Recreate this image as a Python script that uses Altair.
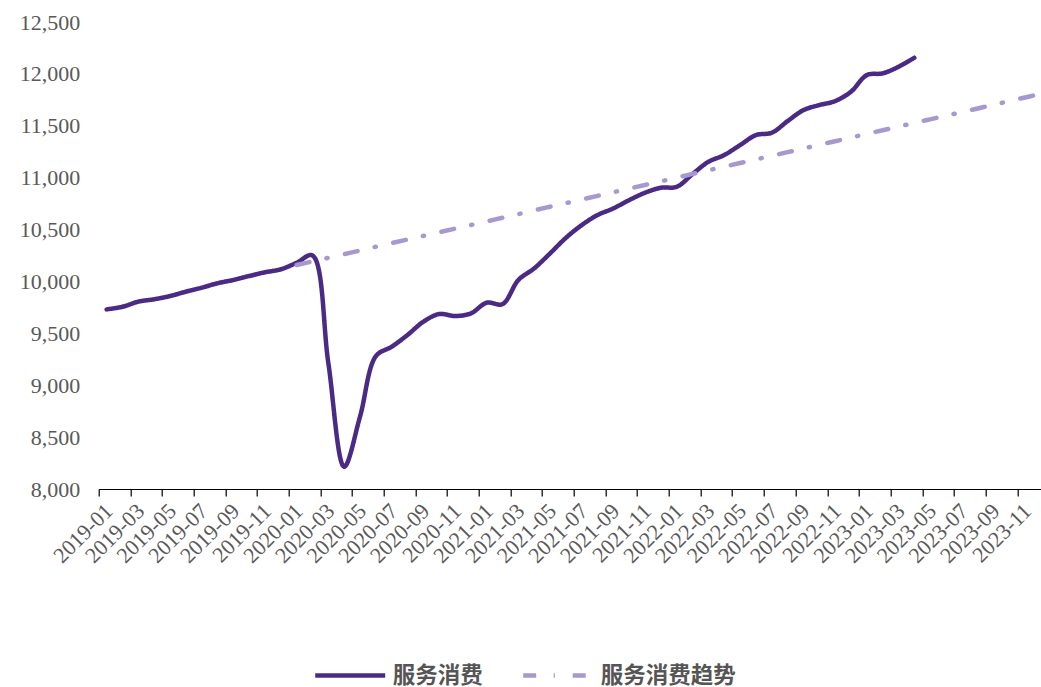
import altair as alt
import pandas as pd

# Monthly categories on the x axis
months = [f"{y}-{m:02d}" for y in range(2019, 2024) for m in range(1, 13)]

# Services consumption, 2019-01 .. 2023-04
service = [
    9731, 9756, 9805, 9828, 9859, 9901, 9939, 9982, 10014, 10052, 10088, 10117,
    10180, 10250, 9214, 8215, 8697, 9280, 9371, 9484, 9612, 9686, 9667, 9692,
    9795, 9782, 10014, 10126, 10270, 10420, 10543, 10640, 10704, 10784, 10855, 10903,
    10912, 11035, 11153, 11218, 11314, 11410, 11433, 11545, 11651, 11699, 11738, 11828,
    11988, 12005, 12068, 12155,
]

# Pre-pandemic trend, 2020-01 .. 2023-12
trend_start = 12
trend = [
    10158, 10193, 10228, 10263, 10298, 10334, 10369, 10404, 10439, 10474, 10509, 10544,
    10579, 10614, 10649, 10685, 10720, 10755, 10790, 10825, 10860, 10895, 10930, 10965,
    11000, 11036, 11071, 11106, 11141, 11176, 11211, 11246, 11281, 11316, 11351, 11387,
    11422, 11457, 11492, 11527, 11562, 11597, 11632, 11667, 11702, 11738, 11773, 11808,
]

series_names = ["服务消费", "服务消费趋势"]
series_colors = ["#4B2A85", "#A898D0"]
series_dash = [[1, 0], [13, 17.5, 1.2, 17.8]]

y_ticks = list(range(8000, 12501, 500))
x_ticks = list(range(0, 60, 2))

rows = [{"idx": i, "value": v, "series": series_names[0]} for i, v in enumerate(service)]
rows += [{"idx": trend_start + k, "value": v, "series": series_names[1]} for k, v in enumerate(trend)]
df = pd.DataFrame(rows)

label_lookup = "[" + ",".join(f"'{m}'" for m in months) + "][datum.value]"

LEFT, TOP = 98.7, 22
PLOT_W, PLOT_H = 1041 - LEFT, 467
month_px = PLOT_W / 59.5

serif = "Liberation Serif"

chart = (
    alt.Chart(df)
    .mark_line(strokeWidth=4.5, strokeCap="round", strokeJoin="round", interpolate="catmull-rom")
    .encode(
        x=alt.X(
            "idx:Q",
            scale=alt.Scale(domain=[-0.5, 59.0], nice=False, zero=False),
            axis=alt.Axis(
                values=x_ticks,
                labelExpr=label_lookup,
                title=None,
                grid=False,
                tickOffset=-month_px / 2,
                labelOffset=month_px / 2 + 2,
                labelAngle=-45,
                labelAlign="right",
                labelBaseline="middle",
                labelOverlap=False,
                labelFlush=False,
                labelBound=False,
                labelFont=serif,
                labelFontSize=22,
                labelColor="#595959",
                labelPadding=11,
                domainColor="#000000",
                domainWidth=1.2,
                tickColor="#000000",
                tickWidth=1.2,
                tickSize=7,
            ),
        ),
        y=alt.Y(
            "value:Q",
            scale=alt.Scale(domain=[8000, 12500], nice=False, zero=False),
            axis=alt.Axis(
                values=y_ticks,
                format=",.0f",
                title=None,
                grid=False,
                domain=False,
                ticks=False,
                labelPadding=19,
                labelFont=serif,
                labelFontSize=22,
                labelColor="#595959",
            ),
        ),
        color=alt.Color(
            "series:N",
            scale=alt.Scale(domain=series_names, range=series_colors),
            legend=alt.Legend(title=None),
        ),
        strokeDash=alt.StrokeDash(
            "series:N",
            scale=alt.Scale(domain=series_names, range=series_dash),
            legend=alt.Legend(title=None),
        ),
    )
    .properties(
        width=PLOT_W,
        height=PLOT_H,
        autosize=alt.AutoSizeParams(type="none"),
        padding={"left": LEFT, "top": TOP, "right": 0, "bottom": 687 - TOP - PLOT_H},
    )
    .configure_view(stroke=None)
    .configure_legend(
        orient="none",
        legendX=214,
        legendY=616,
        direction="horizontal",
        symbolType="stroke",
        symbolSize=4900,
        symbolStrokeWidth=4.5,
        labelFont="Noto Sans CJK SC",
        labelFontWeight="bold",
        labelFontSize=22.5,
        labelColor="#555555",
        labelOffset=5,
        columnPadding=30,
        padding=0,
    )
)

chart.save("out.html", embed_options={"renderer": "svg", "actions": False})
